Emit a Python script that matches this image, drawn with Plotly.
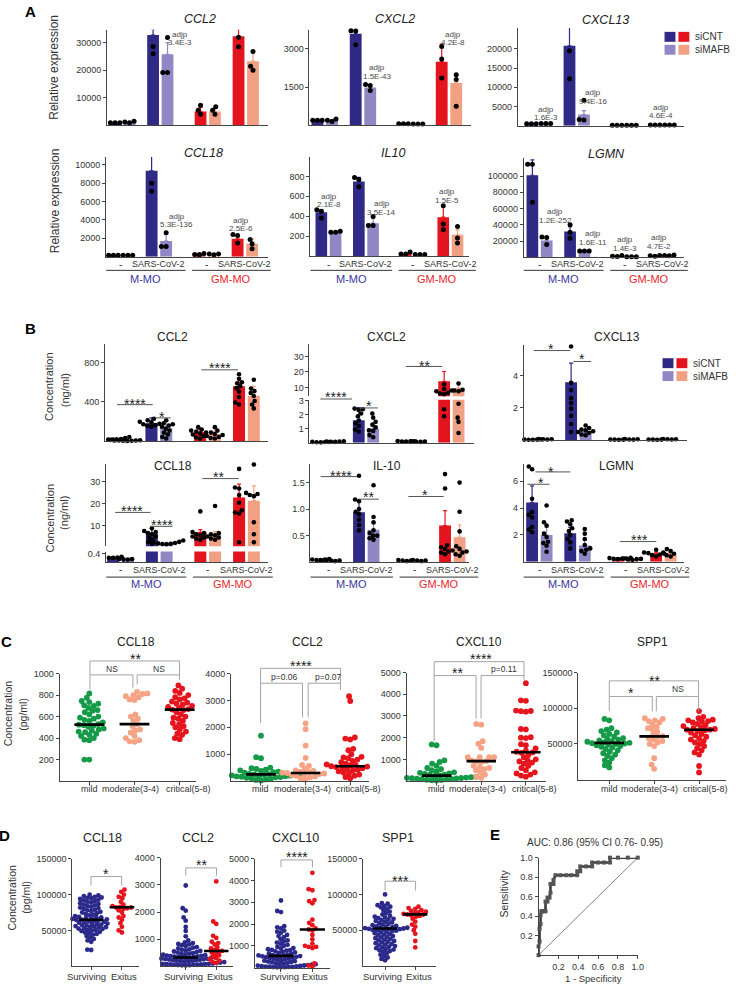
import plotly.graph_objects as go

W, H = 736, 984
FONT = "Liberation Sans, Arial, Helvetica, sans-serif"
TXT = "#333333"
AXC = "#444444"

NAVY, LAV, RED, SALMON = "#2e2a86", "#8f88c4", "#e3141d", "#f2a083"
GREEN, CSAL, CRED = "#159a48", "#f5a384", "#e6141c"
DNAVY = "#2b2a8b"
MMO_COL, GMMO_COL = "#3b36a0", "#e8262c"

# ======================= DATA =======================
CAT_LABELS = ["-", "SARS-CoV-2", "-", "SARS-CoV-2"]
CELL_TYPES = ["M-MO", "GM-MO"]
SIRNA = ["siCNT", "siMAFB"]
# bar order: M-MO(-)siCNT, M-MO(-)siMAFB, M-MO(SARS)siCNT, M-MO(SARS)siMAFB,
#            GM-MO(-)siCNT, GM-MO(-)siMAFB, GM-MO(SARS)siCNT, GM-MO(SARS)siMAFB

# ---- Panel A (relative expression)
A_GENES = ["CCL2", "CXCL2", "CXCL13", "CCL18", "IL10", "LGMN"]
A_CCL2_MEAN = [1000, 1200, 32800, 25800, 5000, 5000, 32300, 23300]
A_CCL2_SD = [300, 300, 2000, 4200, 1500, 1500, 2700, 3200]
A_CCL2_PTS = [[1000, 1000, 1000], [1500, 1200, 1000], [35500, 28600, 26000], [31900, 19200, 19200],
              [7300, 5500, 4000], [6800, 5500, 4000], [35300, 32000, 28500], [26800, 21500, 20000]]
A_CXCL2_MEAN = [200, 200, 3580, 1480, 60, 50, 2490, 1660]
A_CXCL2_SD = [30, 40, 100, 100, 10, 10, 690, 300]
A_CXCL2_PTS = [[200, 200, 200], [250, 200, 150], [3700, 3690, 3150], [1600, 1560, 1360],
               [60, 60, 60], [50, 50, 50], [3080, 2600, 1850], [1980, 1790, 750]]
A_CXCL13_MEAN = [500, 600, 20800, 2900, 100, 100, 150, 150]
A_CXCL13_SD = [50, 100, 4800, 1000, 20, 20, 30, 30]
A_CXCL13_PTS = [[500, 500, 500], [600, 600, 600], [26800, 19500, 12200], [6600, 1600, 1450],
                [100, 100, 100], [100, 100, 100], [150, 150, 150], [150, 150, 150]]
A_CCL18_MEAN = [150, 150, 9330, 1700, 350, 300, 1950, 1400]
A_CCL18_SD = [50, 50, 1870, 900, 50, 50, 300, 500]
A_CCL18_PTS = [[150, 150, 150], [150, 150, 150], [11200, 7970, 7100], [2600, 1100, 1100],
               [350, 250, 200], [300, 200, 300], [2400, 2300, 1500], [1870, 1400, 860]]
A_IL10_MEAN = [440, 236, 750, 330, 20, 15, 390, 213]
A_IL10_SD = [25, 15, 40, 50, 5, 5, 116, 50]
A_IL10_PTS = [[450, 465, 383], [250, 240, 240], [790, 770, 696], [396, 306, 306],
              [40, 20, 20], [15, 15, 15], [506, 323, 263], [296, 180, 130]]
A_LGMN_MEAN = [101000, 20800, 31800, 7800, 1500, 800, 2000, 2500]
A_LGMN_SD = [19000, 3000, 6000, 500, 500, 300, 500, 500]
A_LGMN_PTS = [[114600, 114600, 67800], [25000, 24500, 16000], [40000, 31000, 23700], [8000, 8000, 8000],
              [2500, 1500, 1000], [800, 800, 800], [2500, 2000, 1500], [3000, 2500, 2000]]
A_ADJP = {
    "CCL2": ["3.4E-3"],
    "CXCL2": ["1.5E-43", "4.2E-8"],
    "CXCL13": ["1.6E-3", "9.4E-16", "4.6E-4"],
    "CCL18": ["5.3E-136", "2.5E-6"],
    "IL10": ["2.1E-8", "3.5E-14", "1.5E-5"],
    "LGMN": ["1.2E-252", "1.6E-11", "1.4E-3", "4.7E-2"],
}

# ---- Panel B (concentration, ng/ml)
B_GENES = ["CCL2", "CXCL2", "CXCL13", "CCL18", "IL-10", "LGMN"]
B_CCL2_MEAN = [27, 10, 181, 135, 95, 75, 558, 463]
B_CCL2_SD = [10, 3, 57, 69, 26, 30, 84, 95]
B_CCL2_PTS = [[15, 20, 25, 30, 35, 40, 22, 30, 45], [5, 8, 10, 12, 10, 8, 15, 10],
              [230, 215, 200, 195, 185, 180, 175, 165, 160, 150], [215, 175, 160, 150, 130, 110, 90, 70, 45, 30],
              [145, 120, 110, 100, 90, 80, 70, 55, 40, 30], [145, 110, 90, 75, 65, 55, 45, 35, 30],
              [680, 635, 600, 590, 560, 540, 505, 450, 395, 375], [625, 535, 510, 490, 460, 410, 375, 335]]
B_CXCL2_MEAN = [0.05, 0.08, 1.62, 1.0, 0.1, 0.08, 13.9, 9.6]
B_CXCL2_SD = [0.02, 0.02, 0.9, 0.25, 0.05, 0.02, 6.4, 3.6]
B_CXCL2_PTS = [[0.03, 0.05, 0.06, 0.04, 0.05], [0.06, 0.08, 0.1, 0.07, 0.09],
               [2.45, 2.35, 2.4, 2.1, 1.9, 1.6, 1.4, 1.2, 0.95, 0.8], [2.1, 1.8, 1.5, 1.3, 1.1, 0.9, 0.85, 0.55, 0.4],
               [0.08, 0.1, 0.12, 0.1, 0.09], [0.06, 0.08, 0.1, 0.07],
               [12, 9, 8, 7.5, 6.5, 6, 5.5, 2.4, 1.9], [12.5, 8.5, 8, 7.5, 2.8, 1.8, 1.5, 0.7]]
B_CXCL13_MEAN = [0.03, 0.05, 3.58, 0.55, 0.03, 0.04, 0.03, 0.05]
B_CXCL13_SD = [0.01, 0.01, 1.19, 0.1, 0.01, 0.01, 0.01, 0.01]
B_CXCL13_PTS = [[0.02, 0.03, 0.04, 0.03, 0.02], [0.04, 0.05, 0.06, 0.05],
                [5.8, 3.55, 3.1, 2.6, 2.3, 1.95, 1.5, 1.0, 0.5], [0.9, 0.75, 0.65, 0.6, 0.55, 0.5, 0.45, 0.35, 0.3],
                [0.02, 0.03, 0.04, 0.03], [0.03, 0.05, 0.04, 0.06], [0.02, 0.03, 0.04, 0.03], [0.04, 0.05, 0.07, 0.05]]
B_CCL18_MEAN = [0.23, 0.13, 6.4, 2.0, 6.9, 5.7, 22.9, 21.4]
B_CCL18_SD = [0.02, 0.02, 2.3, 0.3, 1.2, 1.5, 6.1, 6.8]
B_CCL18_PTS = [[0.25, 0.22, 0.2, 0.24, 0.21], [0.15, 0.12, 0.13, 0.14],
               [8.7, 7.5, 7, 6.5, 6, 5, 4.5, 3.5, 2.5, 1.6], [3.1, 2.8, 2.5, 2.2, 2.0, 1.8, 1.6, 1.5, 1.4],
               [16.5, 7, 6.5, 6, 5.5, 5, 4.5, 4, 3.5], [19, 6.5, 6, 5.5, 5, 4.5, 4, 3.5],
               [36, 27.5, 27, 24, 20.5, 17, 16, 15.5, 2.3], [38, 25, 24.5, 24, 23.5, 11.5, 6, 2.3]]
B_IL10_MEAN = [0.05, 0.03, 0.94, 0.61, 0.03, 0.03, 0.69, 0.47]
B_IL10_SD = [0.01, 0.01, 0.2, 0.11, 0.01, 0.01, 0.28, 0.23]
B_IL10_PTS = [[0.04, 0.05, 0.06, 0.05, 0.04], [0.02, 0.03, 0.04, 0.03],
              [1.63, 1.18, 1.15, 1.0, 0.95, 0.9, 0.8, 0.7, 0.6], [1.45, 0.85, 0.75, 0.6, 0.55, 0.5, 0.45, 0.42, 0.5],
              [0.02, 0.03, 0.04, 0.03], [0.02, 0.03, 0.03, 0.04],
              [1.66, 1.39, 0.32, 0.28, 0.25, 0.22, 0.2, 0.18, 0.15], [1.5, 0.95, 0.58, 0.3, 0.25, 0.2, 0.18, 0.15, 0.12]]
B_LGMN_MEAN = [4.42, 2.0, 2.13, 1.21, 0.25, 0.2, 0.62, 0.62]
B_LGMN_SD = [1.23, 0.57, 0.44, 0.39, 0.05, 0.05, 0.1, 0.1]
B_LGMN_PTS = [[7.1, 6.9, 4.7, 3.7, 3.5, 3.3, 2.6, 2.4, 2.2], [4.2, 2.95, 2.7, 2.1, 1.85, 1.5, 1.4, 1.2, 0.75],
              [3.1, 3.0, 2.8, 2.5, 2.3, 2.0, 1.7, 1.45, 1.0], [2.45, 2.1, 1.7, 1.25, 1.0, 0.9, 0.8, 0.6],
              [0.3, 0.25, 0.2, 0.28, 0.22, 0.25], [0.22, 0.18, 0.2, 0.15, 0.25],
              [0.9, 0.7, 0.6, 0.5, 0.4, 0.55, 0.65], [0.95, 0.8, 0.7, 0.5, 0.4, 0.6]]

# ---- Panel C (patients by severity, pg/ml)
C_GROUPS = ["mild", "moderate(3-4)", "critical(5-8)"]
C_GENES = ["CCL18", "CCL2", "CXCL10", "SPP1"]
C_CCL18 = [
    [815, 775, 745, 735, 720, 705, 700, 680, 660, 655, 640, 620, 600, 590, 580, 570, 560, 545, 530, 525,
     520, 515, 505, 490, 480, 470, 460, 455, 440, 430, 420, 400, 385, 380, 200, 200],
    [830, 815, 810, 800, 790, 780, 760, 755, 620, 600, 580, 560, 530, 510, 480, 470, 450, 420, 400, 380, 370, 365],
    [890, 860, 840, 820, 800, 780, 770, 760, 740, 730, 720, 710, 700, 690, 680, 670, 665, 660, 640, 620,
     600, 590, 580, 560, 540, 530, 510, 500, 480, 460, 440, 430, 400, 390]]
C_CCL18_MED = [525, 530, 665]
C_CCL2 = [
    [1690, 890, 850, 500, 480, 450, 420, 400, 380, 350, 330, 310, 300, 290, 280, 270, 260, 250, 245, 240,
     230, 220, 210, 200, 190, 180, 170, 160, 150, 140, 120, 100, 80, 60, 40, 20],
    [2150, 1930, 1320, 860, 600, 560, 450, 400, 380, 350, 330, 310, 300, 280, 260, 240, 220, 200, 170, 140, 100, 60],
    [3160, 2980, 1620, 1580, 1550, 1200, 1150, 1000, 900, 880, 850, 800, 750, 700, 650, 620, 600, 580, 560, 550,
     540, 520, 500, 480, 450, 420, 400, 360, 320, 280, 240, 200, 150, 100]]
C_CCL2_MED = [250, 300, 550]
C_CXCL10 = [
    [1690, 1650, 950, 880, 800, 700, 600, 550, 500, 450, 400, 380, 350, 330, 300, 280, 260, 240, 220, 200,
     190, 180, 170, 160, 150, 140, 130, 120, 110, 100, 90, 80, 60, 50, 40, 30],
    [2630, 2600, 1840, 1720, 1530, 1100, 1100, 1100, 1100, 950, 920, 900, 880, 700, 650, 600, 550, 500, 400, 300, 200, 150],
    [4510, 3720, 3700, 3250, 3230, 3220, 3200, 2400, 2380, 2020, 2000, 1980, 1700, 1650, 1500, 1400, 1350, 1320,
     1300, 1200, 1100, 1000, 950, 900, 850, 800, 700, 600, 500, 400, 350, 300, 250, 200]]
C_CXCL10_MED = [250, 920, 1330]
C_SPP1 = [
    [85000, 83000, 72000, 70000, 68000, 66000, 64000, 62000, 60000, 58000, 57000, 56000, 55000, 54000, 53000,
     52000, 51500, 51000, 50500, 50000, 49000, 48000, 47000, 46000, 45000, 43000, 41000, 39000, 37000, 35000,
     33000, 30000, 27000, 24000, 20000, 17000],
    [86000, 85000, 83000, 82000, 80000, 77000, 74000, 72000, 70000, 67000, 63000, 61000, 60000, 58000, 56000,
     54000, 52000, 50000, 47000, 30000, 21000, 15000],
    [96000, 88000, 86000, 84000, 83000, 82000, 81000, 80000, 78000, 76000, 75000, 73000, 72000, 71000, 70000,
     70000, 69000, 68000, 66000, 64000, 62000, 60000, 58000, 56000, 54000, 52000, 50000, 47000, 44000, 41000,
     38000, 35000, 19000, 10000]]
C_SPP1_MED = [51400, 60600, 69900]

# ---- Panel D (surviving vs exitus, pg/ml)
D_GROUPS = ["Surviving", "Exitus"]
D_GENES = ["CCL18", "CCL2", "CXCL10", "SPP1"]
D_CCL18 = [
    [100000, 99000, 98000, 97000, 96000, 95500, 95000, 94000, 93000, 92000, 91000, 90000, 89000, 88000, 87000,
     86000, 85000, 84000, 83000, 82000, 81000, 80000, 79000, 78000, 77000, 76000, 75000, 74000, 73000, 72000,
     71000, 70000, 69000, 68500, 68000, 67000, 66500, 66000, 65500, 65000, 64800, 64000, 63500, 63000, 62000,
     61500, 61000, 60000, 59500, 59000, 58000, 57500, 57000, 56000, 55500, 55000, 54500, 54000, 53000, 52500,
     52000, 51000, 50500, 50000, 49000, 48000, 47000, 46000, 45000, 44000, 42000, 40000, 38000, 36000, 34000,
     23000, 22500],
    [107000, 104000, 100000, 97000, 95000, 90000, 86000, 84000, 83000, 82000, 82000, 81000, 80000, 78000,
     75000, 70000, 68000, 65000, 60000, 55000, 50000, 47000]]
D_CCL18_MED = [64900, 82400]
D_CCL2 = [
    [2980, 2140, 2050, 1800, 1680, 1450, 1300, 1100, 950, 880, 850, 820, 800, 770, 740, 700, 680, 650, 620, 600,
     580, 560, 540, 520, 500, 480, 460, 450, 430, 420, 400, 390, 380, 370, 360, 350, 340, 330, 325, 320, 315,
     310, 300, 290, 280, 270, 260, 250, 240, 230, 220, 210, 200, 190, 180, 170, 160, 150, 140, 130, 120, 110,
     100, 95, 90, 85, 80, 75, 70, 65, 60, 55, 50, 45, 40, 35, 30, 25],
    [3130, 1650, 1560, 1120, 1040, 900, 850, 800, 700, 650, 600, 560, 550, 500, 450, 400, 350, 300, 250, 200, 150, 120]]
D_CCL2_MED = [320, 560]
D_CXCL10 = [
    [3080, 2600, 2550, 1900, 1850, 1800, 1700, 1650, 1600, 1500, 1450, 1400, 1300, 1250, 1200, 1150, 1100, 1050,
     1000, 950, 900, 880, 850, 820, 800, 780, 750, 720, 700, 680, 650, 630, 600, 580, 560, 550, 540, 530, 520,
     510, 500, 480, 460, 440, 420, 400, 380, 360, 340, 320, 300, 280, 260, 240, 220, 200, 190, 180, 170, 160,
     150, 140, 130, 120, 110, 100, 90, 80, 70, 60, 50, 45, 40, 35, 30, 25, 20, 15],
    [4350, 3600, 3550, 3100, 3050, 2950, 2200, 2050, 1950, 1800, 1750, 1700, 1500, 1300, 1100, 1000, 950, 950,
     900, 200, 100, 50]]
D_CXCL10_MED = [540, 1750]
D_SPP1 = [
    [100000, 88000, 87000, 85000, 84000, 83000, 82000, 80000, 78000, 76000, 74000, 72000, 70000, 69000, 68000,
     67000, 66000, 65000, 64000, 63000, 62000, 61000, 60000, 59000, 58000, 57000, 56000, 55500, 55000, 54500,
     54000, 53500, 53000, 52500, 52000, 52000, 51500, 51000, 50500, 50000, 49500, 49000, 48000, 47000, 46000,
     45000, 44000, 43000, 42000, 41000, 40000, 39000, 38000, 37000, 36000, 35000, 34000, 33000, 32000, 31000,
     30000, 29000, 28000, 27000, 26000, 25000, 24000, 23000, 22000, 21000, 20000, 18000, 16000, 14000, 12000,
     10000, 8000],
    [83000, 81000, 80000, 78000, 77000, 76000, 75000, 74000, 73000, 72000, 72000, 71000, 70000, 69000, 66000,
     62000, 58000, 55000, 50000, 45000, 35000, 26000]]
D_SPP1_MED = [52400, 72200]

# ---- Panel E (ROC)
E_FPR = [0.0, 0.0, 0.01, 0.01, 0.02, 0.02, 0.03, 0.03, 0.05, 0.07, 0.07, 0.09, 0.09, 0.11, 0.12, 0.12, 0.15,
         0.15, 0.17, 0.22, 0.28, 0.33, 0.39, 0.39, 0.42, 0.42, 0.48, 0.54, 0.54, 0.6, 0.66, 0.72, 0.72, 0.8,
         0.9, 1.0]
E_TPR = [0.0, 0.09, 0.14, 0.27, 0.32, 0.41, 0.45, 0.45, 0.45, 0.45, 0.55, 0.55, 0.59, 0.59, 0.64, 0.73, 0.73,
         0.77, 0.82, 0.82, 0.82, 0.82, 0.82, 0.86, 0.86, 0.91, 0.91, 0.91, 0.95, 0.95, 0.95, 0.95, 1.0, 1.0,
         1.0, 1.0]
E_TITLE = "AUC: 0.86 (95% CI 0.76- 0.95)"

# ======================= HELPERS =======================
P = [0.0, 1.0, 2.25, 3.25]
OFF, BAR_W = 0.19, 0.31
BAR_X = [P[0] - OFF, P[0] + OFF, P[1] - OFF, P[1] + OFF, P[2] - OFF, P[2] + OFF, P[3] - OFF, P[3] + OFF]
BAR_C = [NAVY, LAV, NAVY, LAV, RED, SALMON, RED, SALMON]
PAIRS = [(0, 2), (1, 3), (4, 6), (5, 7)]

fig = go.Figure()
LAY = {}
ANN = []
SHP = []
AXN = [0]


def fmt(v):
    return str(int(v)) if float(v).is_integer() else str(v)


def T(x, y, text, size=9, color=TXT, angle=0, xa="center", ya="middle", bold=False, italic=False):
    if bold:
        text = "<b>%s</b>" % text
    if italic:
        text = "<i>%s</i>" % text
    ANN.append(dict(x=x / W, y=1 - y / H, xref="paper", yref="paper", text=text, showarrow=False,
                    font=dict(size=size, color=color, family=FONT), textangle=angle,
                    xanchor=xa, yanchor=ya))


def L(x0, y0, x1, y1, color="#555555", w=1.0):
    SHP.append(dict(type="line", xref="paper", yref="paper", x0=x0 / W, y0=1 - y0 / H, x1=x1 / W,
                    y1=1 - y1 / H, line=dict(color=color, width=w)))


def RECT(x0, y0, x1, y1, color):
    SHP.append(dict(type="rect", xref="paper", yref="paper", x0=x0 / W, y0=1 - y0 / H, x1=x1 / W,
                    y1=1 - y1 / H, line=dict(width=0), fillcolor=color))


def BR(xl, xr, yt, ylb, yrb, color="#9a9a9a", w=0.9):
    path = "M %f,%f L %f,%f L %f,%f L %f,%f" % (xl / W, 1 - ylb / H, xl / W, 1 - yt / H, xr / W,
                                                 1 - yt / H, xr / W, 1 - yrb / H)
    SHP.append(dict(type="path", xref="paper", yref="paper", path=path, line=dict(color=color, width=w)))


def STAR(x0, x1, yl, text, xt, yt, size=14):
    L(x0, yl, x1, yl, "#555555", 1)
    T(xt, yt + 0.3 * size, text, size, "#222222")


def ypix(s, v):
    lo, hi = s["yr"]
    return s["y1"] - (v - lo) / (hi - lo) * (s["y1"] - s["y0"])


def xpix(s, v):
    lo, hi = s["xr"]
    return s["x0"] + (v - lo) / (hi - lo) * (s["x1"] - s["x0"])


def xunit(s):
    return (s["x1"] - s["x0"]) / (s["xr"][1] - s["xr"][0])


def beeswarm(ypx, d):
    order = sorted(range(len(ypx)), key=lambda i: -ypx[i])
    placed, xs = [], [0.0] * len(ypx)
    for i in order:
        y = ypx[i]
        iv = []
        for (px_, py_) in placed:
            dy = abs(py_ - y)
            if dy < d:
                dx = (d * d - dy * dy) ** 0.5
                iv.append((px_ - dx, px_ + dx))
        cands = [0.0] + [a for a, b in iv] + [b for a, b in iv]
        cands.sort(key=lambda c: (abs(c), c))
        for c in cands:
            if all(not (a + 1e-6 < c < b - 1e-6) for a, b in iv):
                xs[i] = c
                break
        placed.append((xs[i], y))
    return xs


def add_axes(s, yticks, yticktext=None, xline=True, xticks=None, yfont=9):
    AXN[0] += 1
    k = AXN[0]
    sfx = "" if k == 1 else str(k)
    xa = dict(domain=[s["x0"] / W, s["x1"] / W], range=s["xr"], anchor="y" + sfx, showgrid=False,
              zeroline=False, showline=xline, linecolor=AXC, linewidth=1, fixedrange=True,
              showticklabels=False)
    if xticks is None:
        xa.update(ticks="")
    else:
        xa.update(tickmode="array", tickvals=xticks, ticks="outside", ticklen=3, tickcolor=AXC)
    ya = dict(domain=[1 - s["y1"] / H, 1 - s["y0"] / H], range=s["yr"], anchor="x" + sfx, showgrid=False,
              zeroline=False, showline=True, linecolor=AXC, linewidth=1, tickmode="array",
              tickvals=yticks, ticktext=yticktext or [fmt(v) for v in yticks], ticks="outside", ticklen=3,
              tickcolor=AXC, tickfont=dict(size=yfont, color=TXT, family=FONT), fixedrange=True)
    LAY["xaxis" + sfx] = xa
    LAY["yaxis" + sfx] = ya
    return "x" + sfx, "y" + sfx


def bar_panel(segs, mean, sd, pts, dsize=5.0, gap=4.6):
    """segs: list of (spec, ticks, xline, ticktext) from bottom segment to top segment."""
    names = []
    for (s, ticks, xline, ttxt) in segs:
        names.append(add_axes(s, ticks, ttxt, xline=xline))

    def seg_of(v):
        for j, (s, t, xl, tt) in enumerate(segs):
            if v <= s["yr"][1]:
                return j
        return len(segs) - 1

    for j, (s, t, xl, tt) in enumerate(segs):
        xn, yn = names[j]
        for (a, b) in PAIRS:
            fig.add_trace(go.Bar(x=[BAR_X[a], BAR_X[b]], y=[mean[a], mean[b]], width=BAR_W,
                                 marker=dict(color=BAR_C[a], line=dict(width=0)), xaxis=xn, yaxis=yn,
                                 hoverinfo="skip", showlegend=False))
        for (a, b) in PAIRS:
            ex, ey, ee = [], [], []
            for i in (a, b):
                if seg_of(mean[i]) == j:
                    ex.append(BAR_X[i]); ey.append(mean[i]); ee.append(sd[i])
            if ex:
                fig.add_trace(go.Scatter(x=ex, y=ey, mode="markers", marker=dict(size=1, opacity=0),
                                         error_y=dict(type="data", array=ee, arrayminus=[0] * len(ee),
                                                      symmetric=False, color=BAR_C[a], thickness=1.2, width=2),
                                         xaxis=xn, yaxis=yn, hoverinfo="skip", showlegend=False,
                                         cliponaxis=False))
    dx = {j: [] for j in range(len(segs))}
    dy = {j: [] for j in range(len(segs))}
    for i, vals in enumerate(pts):
        sj = [seg_of(v) for v in vals]
        yp = [ypix(segs[sj[n]][0], v) for n, v in enumerate(vals)]
        offs = beeswarm(yp, gap)
        for n, v in enumerate(vals):
            s = segs[sj[n]][0]
            dx[sj[n]].append(BAR_X[i] + offs[n] / xunit(s))
            dy[sj[n]].append(v)
    for j in range(len(segs)):
        if dx[j]:
            xn, yn = names[j]
            fig.add_trace(go.Scatter(x=dx[j], y=dy[j], mode="markers",
                                     marker=dict(color="black", size=dsize, line=dict(width=0)),
                                     xaxis=xn, yaxis=yn, hoverinfo="skip", showlegend=False, cliponaxis=False))
    return names


def cat_labels(s, y_lab, y_line, y_grp):
    for p, t in zip(P, CAT_LABELS):
        T(xpix(s, p), y_lab, t, 9 if t != "-" else 10)
    m0, m1 = s["x0"], xpix(s, P[1] + 0.7)
    g0, g1 = xpix(s, P[2] - 0.38), xpix(s, P[3] + 0.68)
    L(m0, y_line, m1, y_line, "#333333", 1)
    L(g0, y_line, g1, y_line, "#333333", 1)
    T((m0 + m1) / 2, y_grp, CELL_TYPES[0], 11, MMO_COL)
    T((g0 + g1) / 2, y_grp, CELL_TYPES[1], 11, GMMO_COL)


def strip_panel(s, groups, cols, meds, ticks, labels, label_x, label_y, msize, gap, mhalf, lfont=9):
    xn, yn = add_axes(s, ticks, xticks=list(range(len(groups))))
    for gi, vals in enumerate(groups):
        yp = [ypix(s, v) for v in vals]
        offs = beeswarm(yp, gap)
        xs = [gi + o / xunit(s) for o in offs]
        fig.add_trace(go.Scatter(x=xs, y=vals, mode="markers", marker=dict(color=cols[gi], size=msize,
                                 line=dict(width=0)), xaxis=xn, yaxis=yn, hoverinfo="skip",
                                 showlegend=False, cliponaxis=False))
    for gi, m in enumerate(meds):
        fig.add_trace(go.Scatter(x=[gi - mhalf, gi + mhalf], y=[m, m], mode="lines",
                                 line=dict(color="black", width=2.6), xaxis=xn, yaxis=yn,
                                 hoverinfo="skip", showlegend=False))
    for lab, lx in zip(labels, label_x):
        T(lx, label_y, lab, lfont, TXT)


# ======================= PANEL A =======================
SA = {
    "CCL2": dict(x0=108, x1=270, y0=25, y1=121, xr=[-0.4, 3.83], yr=[0, 34660]),
    "CXCL2": dict(x0=312, x1=475, y0=25, y1=121, xr=[-0.4, 3.83], yr=[0, 3735]),
    "CXCL13": dict(x0=522, x1=690, y0=23, y1=121.3, xr=[-0.55, 3.83], yr=[0, 25466]),
    "CCL18": dict(x0=107, x1=270, y0=152.7, y1=253, xr=[-0.38, 3.85], yr=[0, 10843]),
    "IL10": dict(x0=313, x1=473, y0=152.7, y1=252.3, xr=[-0.48, 3.75], yr=[0, 996]),
    "LGMN": dict(x0=528, x1=690, y0=153.3, y1=253.7, xr=[-0.42, 3.84], yr=[0, 122800]),
}
A_TICKS = {
    "CCL2": [10000, 20000, 30000], "CXCL2": [1500, 3000], "CXCL13": [5000, 10000, 15000, 20000],
    "CCL18": [2000, 4000, 6000, 8000, 10000], "IL10": [200, 400, 600, 800],
    "LGMN": [20000, 40000, 60000, 80000, 100000],
}
A_DATA = {
    "CCL2": (A_CCL2_MEAN, A_CCL2_SD, A_CCL2_PTS), "CXCL2": (A_CXCL2_MEAN, A_CXCL2_SD, A_CXCL2_PTS),
    "CXCL13": (A_CXCL13_MEAN, A_CXCL13_SD, A_CXCL13_PTS), "CCL18": (A_CCL18_MEAN, A_CCL18_SD, A_CCL18_PTS),
    "IL10": (A_IL10_MEAN, A_IL10_SD, A_IL10_PTS), "LGMN": (A_LGMN_MEAN, A_LGMN_SD, A_LGMN_PTS),
}
for g in A_GENES:
    m, sd, pts = A_DATA[g]
    bar_panel([(SA[g], A_TICKS[g], True, None)], m, sd, pts, dsize=5, gap=4.8)

A_TITLE_POS = [(201.7, 14), (398.3, 14), (610, 15), (205, 148.3), (396.7, 148.3), (611.7, 150)]
for g, (x, y) in zip(A_GENES, A_TITLE_POS):
    T(x, y, g, 12.5, "#222222", italic=True)

ADJP_POS = {
    "CCL2": [(181.7, 29.3)], "CXCL2": [(380.5, 63.3), (457, 29.3)],
    "CXCL13": [(550, 105), (598.3, 88.3), (666, 103)],
    "CCL18": [(178, 212.3), (243, 216.7)], "IL10": [(332, 192.3), (385, 200), (450.5, 187.7)],
    "LGMN": [(560, 208), (598.3, 230), (630, 236), (664, 234)],
}
for g in A_GENES:
    for (x, y), pv in zip(ADJP_POS[g], A_ADJP[g]):
        T(x, y, "adjp", 8, "#4a4a4a")
        T(x, y + 8.4, pv, 8, "#4a4a4a")

for g in ["CCL18", "IL10", "LGMN"]:
    cat_labels(SA[g], 260.7, 266.7, 275)

T(55, 62.5, "Relative expression", 12, TXT, angle=-90)
T(55, 196.7, "Relative expression", 12, TXT, angle=-90)
T(31, 7, "A", 15, "black", bold=True)

# legend A
RECT(670, 27, 681, 37, NAVY); RECT(684, 27, 695, 37, RED)
RECT(670, 40, 681, 50, LAV); RECT(684, 40, 695, 50, SALMON)
T(699, 31.5, SIRNA[0], 10, TXT, xa="left"); T(699, 45, SIRNA[1], 10, TXT, xa="left")

# ======================= PANEL B =======================
SB_CCL2 = dict(x0=106, x1=270, y0=340.7, y1=438.7, xr=[-0.38, 3.8], yr=[0, 987])
SB_CXCL2_LO = dict(x0=312, x1=478, y0=396.7, y1=440, xr=[-0.49, 3.85], yr=[0, 3.09])
SB_CXCL2_HI = dict(x0=312, x1=478, y0=340.7, y1=393.3, xr=[-0.49, 3.85], yr=[4.2, 38.2])
SB_CXCL13 = dict(x0=528, x1=693, y0=341.7, y1=437.3, xr=[-0.43, 3.85], yr=[0, 5.9])
SB_CCL18_LO = dict(x0=107, x1=270, y0=549.3, y1=560, xr=[-0.37, 3.8], yr=[0, 0.5])
SB_CCL18_HI = dict(x0=107, x1=270, y0=461.7, y1=544, xr=[-0.37, 3.8], yr=[0.5, 38.1])
SB_IL10 = dict(x0=313, x1=473, y0=461.7, y1=560, xr=[-0.46, 3.69], yr=[0, 1.844])
SB_LGMN = dict(x0=528, x1=690, y0=461.7, y1=559.7, xr=[-0.41, 3.8], yr=[0, 7.26])

bar_panel([(SB_CCL2, [400, 800], True, None)], B_CCL2_MEAN, B_CCL2_SD, B_CCL2_PTS, 4.6, 4.3)
bar_panel([(SB_CXCL2_LO, [1, 2, 3], True, None), (SB_CXCL2_HI, [10, 20, 30], False, None)],
          B_CXCL2_MEAN, B_CXCL2_SD, B_CXCL2_PTS, 4.6, 4.3)
bar_panel([(SB_CXCL13, [2, 4], True, None)], B_CXCL13_MEAN, B_CXCL13_SD, B_CXCL13_PTS, 4.6, 4.3)
bar_panel([(SB_CCL18_LO, [0.4], True, None), (SB_CCL18_HI, [10, 20, 30], False, None)],
          B_CCL18_MEAN, B_CCL18_SD, B_CCL18_PTS, 4.6, 4.3)
bar_panel([(SB_IL10, [0.5, 1.0, 1.5], True, ["0.5", "1.0", "1.5"])], B_IL10_MEAN, B_IL10_SD, B_IL10_PTS, 4.6, 4.3)
bar_panel([(SB_LGMN, [2, 4, 6], True, None)], B_LGMN_MEAN, B_LGMN_SD, B_LGMN_PTS, 4.6, 4.3)

B_TITLE_POS = [(174, 333.3), (390, 333.3), (621.7, 333.3), (174, 463.3), (390, 463), (621.7, 463)]
for g, (x, y) in zip(B_GENES, B_TITLE_POS):
    T(x, y, g, 12, "#222222")

for s in (SB_CCL18_LO, SB_IL10, SB_LGMN):
    cat_labels(s, 567.7, 575, 582)

STARS_B = [
    (118, 154, 401.7, "****", 136, 396.7), (156, 172, 415, "*", 163, 410), (203, 240, 366.7, "****", 221.5, 361),
    (323, 355, 396, "****", 339, 389.3), (362, 381, 405, "*", 371.7, 399.3), (409, 446, 363.3, "**", 428, 358.3),
    (538, 575, 347.3, "*", 555.7, 341.7), (578, 596, 358.3, "*", 586.7, 351.7),
    (116, 151.7, 510, "****", 133.3, 504), (151.7, 174, 524, "****", 163.3, 518.3),
    (204, 240.7, 476, "**", 220, 470.7),
    (323.3, 360, 474, "****", 343.3, 469.3), (362, 382, 496.7, "**", 372, 490.7),
    (411.7, 447.3, 494, "*", 428.3, 488.3),
    (531.7, 554, 481.7, "*", 545, 476), (540, 575, 469.3, "*", 556, 465), (625, 661.7, 539.3, "***", 645, 533.3),
]
for st in STARS_B:
    STAR(*st)

T(50, 383.3, "Concentration", 11, TXT, angle=-90); T(65, 386.7, "(ng/ml)", 11, TXT, angle=-90)
T(50, 515.5, "Concentration", 11, TXT, angle=-90); T(65, 510, "(ng/ml)", 11, TXT, angle=-90)
T(31, 325, "B", 15, "black", bold=True)

RECT(668, 355, 679, 365, NAVY); RECT(682, 355, 693, 365, RED)
RECT(668, 368, 679, 378, LAV); RECT(682, 368, 693, 378, SALMON)
T(697, 360, SIRNA[0], 10, TXT, xa="left"); T(697, 373, SIRNA[1], 10, TXT, xa="left")

# ======================= PANEL C =======================
SC = {
    "CCL18": dict(x0=60, x1=198, y0=672, y1=780, xr=[-0.66, 2.37], yr=[0, 1000]),
    "CCL2": dict(x0=233, x1=372, y0=672, y1=780, xr=[-0.67, 2.42], yr=[0, 4000]),
    "CXCL10": dict(x0=410, x1=550, y0=671, y1=780, xr=[-0.67, 2.44], yr=[0, 5000]),
    "SPP1": dict(x0=583, x1=732, y0=671, y1=778.5, xr=[-0.69, 2.6], yr=[0, 150000]),
}
C_TICKS = {"CCL18": [200, 400, 600, 800, 1000], "CCL2": [1000, 2000, 3000, 4000],
           "CXCL10": [1000, 2000, 3000, 4000, 5000], "SPP1": [50000, 100000, 150000]}
C_LABEL_X = {"CCL18": [90, 132, 190], "CCL2": [262.5, 305, 361], "CXCL10": [440, 481.7, 539],
             "SPP1": [615, 655, 711]}
C_DATA = {"CCL18": (C_CCL18, C_CCL18_MED), "CCL2": (C_CCL2, C_CCL2_MED),
          "CXCL10": (C_CXCL10, C_CXCL10_MED), "SPP1": (C_SPP1, C_SPP1_MED)}
for g in C_GENES:
    vals, med = C_DATA[g]
    strip_panel(SC[g], vals, [GREEN, CSAL, CRED], med, C_TICKS[g], C_GROUPS, C_LABEL_X[g], 788.5,
                5.8, 5.0, 0.33, 9)

C_TITLE_POS = [(136.7, 640.7), (310, 640.7), (483.3, 640), (658.3, 640)]
for g, (x, y) in zip(C_GENES, C_TITLE_POS):
    T(x, y, g, 12, "#222222")

# brackets C
BR(90.7, 181, 659.3, 673.3, 673.3); T(136.7, 653.3 + 4.2, "**", 14, "#222222")
BR(90.7, 134, 673.3, 688, 686); T(113.3, 667.3, "NS", 8.5, TXT)
BR(138.3, 181, 673.3, 683, 678.3); T(160, 667.3, "NS", 8.5, TXT)

BR(262.7, 343.3, 666.7, 681.7, 681.7); T(303, 660 + 4.2, "****", 14, "#222222")
BR(262.7, 305, 681.7, 721.7, 716); T(286.7, 675.7, "p=0.06", 8.5, TXT)
BR(310.7, 343.3, 681.7, 716, 688.3); T(331.7, 675.7, "p=0.07", 8.5, TXT)

BR(437.7, 528.3, 660, 674, 674); T(485, 653.3 + 4.2, "****", 14, "#222222")
BR(437.7, 480, 674, 740, 717.3); T(461, 667.3 + 4.2, "**", 14, "#222222")
BR(485, 528.3, 674, 717.3, 678.3); T(508.3, 667.3, "p=0.11", 8.5, TXT)

BR(614.3, 704.3, 679.3, 695, 695); T(660, 675 + 4.2, "**", 14, "#222222")
BR(614.3, 657.7, 695, 710, 710); T(636, 687.7 + 4.2, "*", 14, "#222222")
BR(661.7, 704.3, 695, 710, 710); T(683.3, 687.7, "NS", 8.5, TXT)

T(8.3, 711.7, "Concentration", 10.5, TXT, angle=-90); T(23.3, 713.3, "(pg/ml)", 10.5, TXT, angle=-90)
T(7, 639.3, "C", 15, "black", bold=True)

# ======================= PANEL D =======================
SD_ = {
    "CCL18": dict(x0=73, x1=140, y0=858.3, y1=966, xr=[-0.61, 1.55], yr=[0, 150000]),
    "CCL2": dict(x0=162, x1=235, y0=857.3, y1=966, xr=[-0.82, 1.55], yr=[0, 4000]),
    "CXCL10": dict(x0=257, x1=333, y0=858, y1=967.6, xr=[-0.83, 1.57], yr=[0, 5000]),
    "SPP1": dict(x0=366, x1=440, y0=858, y1=966, xr=[-0.73, 1.7], yr=[0, 150000]),
}
D_TICKS = {"CCL18": [50000, 100000, 150000], "CCL2": [1000, 2000, 3000, 4000],
           "CXCL10": [1000, 2000, 3000, 4000, 5000], "SPP1": [50000, 100000, 150000]}
D_LABEL_X = {"CCL18": [87, 125], "CCL2": [185, 222], "CXCL10": [281.7, 318], "SPP1": [385.8, 422.5]}
D_DATA = {"CCL18": (D_CCL18, D_CCL18_MED), "CCL2": (D_CCL2, D_CCL2_MED),
          "CXCL10": (D_CXCL10, D_CXCL10_MED), "SPP1": (D_SPP1, D_SPP1_MED)}
for g in D_GENES:
    vals, med = D_DATA[g]
    strip_panel(SD_[g], vals, [DNAVY, CRED], med, D_TICKS[g], D_GROUPS, D_LABEL_X[g], 976,
                4.8, 3.9, 0.4, 9.5)

D_TITLE_POS = [(103.3, 837.3), (200, 837.3), (298.3, 837.3), (401.7, 837.3)]
for g, (x, y) in zip(D_GENES, D_TITLE_POS):
    T(x, y, g, 12.5, "#222222")

BR(91.7, 122.7, 876, 885, 885); T(107, 869.3 + 4.2, "*", 14, "#222222")
BR(187.3, 218.3, 867.3, 875, 875); T(203, 860.5 + 4.2, "**", 14, "#222222")
BR(283.3, 315, 859.3, 866.7, 866.7); T(299, 851.7 + 4.2, "****", 14, "#222222")
BR(388.3, 419, 880.7, 890, 890); T(403.5, 876.7 + 4.2, "***", 14, "#222222")

T(12.5, 896.7, "Concentration", 10.5, TXT, angle=-90); T(26.7, 896.7, "(pg/ml)", 10.5, TXT, angle=-90)
T(5, 835, "D", 15, "black", bold=True)

# ======================= PANEL E =======================
SE = dict(x0=543, x1=643, y0=857, y1=955, xr=[0, 1.0], yr=[0, 1.0])
E_TICKS = [0.2, 0.4, 0.6, 0.8, 1.0]
xe, ye = add_axes(SE, E_TICKS, ["%.1f" % v for v in E_TICKS], xticks=E_TICKS)
LAY["xaxis" + xe[1:]].update(showticklabels=True, ticktext=["%.1f" % v for v in E_TICKS],
                             tickfont=dict(size=9, color=TXT, family=FONT))
fig.add_trace(go.Scatter(x=[0, 1], y=[0, 1], mode="lines", line=dict(color="#666666", width=0.8),
                         xaxis=xe, yaxis=ye, hoverinfo="skip", showlegend=False))
fig.add_trace(go.Scatter(x=E_FPR, y=E_TPR, mode="lines+markers", line=dict(color="#3d3d3d", width=2.6),
                         marker=dict(color="#555555", size=4, symbol="square"), xaxis=xe, yaxis=ye,
                         hoverinfo="skip", showlegend=False, cliponaxis=False))
T(600, 842, E_TITLE, 10, TXT)
T(508, 893.3, "Sensitivity", 10.5, TXT, angle=-90)
T(598, 978, "1 - Specificity", 9.5, TXT)
T(499.3, 833.3, "E", 15, "black", bold=True)

fig.update_layout(**LAY)
fig.update_layout(width=W, height=H, margin=dict(l=0, r=0, t=0, b=0), paper_bgcolor="white",
                  plot_bgcolor="white", showlegend=False, barmode="overlay",
                  font=dict(family=FONT, color=TXT), annotations=ANN, shapes=SHP)
fig.write_html("out.html", config={"displayModeBar": False, "staticPlot": True},
               post_script="document.body.style.margin='0px';document.body.style.overflow='hidden';")
